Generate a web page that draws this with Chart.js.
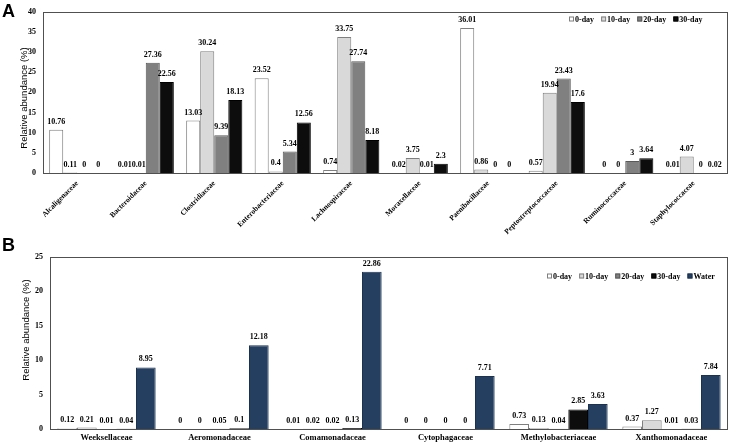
<!DOCTYPE html>
<html><head><meta charset="utf-8">
<script src="https://cdn.jsdelivr.net/npm/chart.js@4.4.0/dist/chart.umd.min.js"></script>
<style>
html,body{margin:0;padding:0;background:#fff;width:732px;height:443px;overflow:hidden;}
#ca{position:absolute;left:0;top:0;z-index:1;}
#cb{position:absolute;left:0;top:225px;z-index:2;}
</style></head><body>
<canvas id="ca" width="732" height="245"></canvas>
<canvas id="cb" width="732" height="218"></canvas>
<script>
// ---------- Data: panel A ----------
const catsA = ["Alcaligenaceae","Bacteroidaceae","Clostridiaceae","Enterobacteriaceae","Lachnospiraceae","Moraxellaceae","Paenibacillaceae","Peptostreptococcaceae","Ruminococcaceae","Staphylococcaceae"];
const a0day  = [10.76, 0.01, 13.03, 23.52, 0.74, 0.02, 36.01, 0.57, 0, 0.01];
const a10day = [0.11, 0.01, 30.24, 0.4, 33.75, 3.75, 0.86, 19.94, 0, 4.07];
const a20day = [0, 27.36, 9.39, 5.34, 27.74, 0.01, 0, 23.43, 3, 0];
const a30day = [0, 22.56, 18.13, 12.56, 8.18, 2.3, 0, 17.6, 3.64, 0.02];
const ticksA = [0,5,10,15,20,25,30,35,40];

// ---------- Data: panel B ----------
const catsB = ["Weeksellaceae","Aeromonadaceae","Comamonadaceae","Cytophagaceae","Methylobacteriaceae","Xanthomonadaceae"];
const b0day  = [0.12, 0, 0.01, 0, 0.73, 0.37];
const b10day = [0.21, 0, 0.02, 0, 0.13, 1.27];
const b20day = [0.01, 0.05, 0.02, 0, 0.04, 0.01];
const b30day = [0.04, 0.1, 0.13, 0, 2.85, 0.03];
const bWater = [8.95, 12.18, 22.86, 7.71, 3.63, 7.84];
const ticksB = [0,5,10,15,20,25];

const seriesNames = ["0-day","10-day","20-day","30-day","Water"];

const SERIF = '"Liberation Serif","Times New Roman",serif';
const SANS = '"Liberation Sans",Arial,sans-serif';

const styles = [
  {backgroundColor:'#ffffff', borderColor:'#7f7f7f'},
  {backgroundColor:'#d9d9d9', borderColor:'#7f7f7f'},
  {backgroundColor:'#808080', borderColor:'#595959'},
  {backgroundColor:'#0d0d0d', borderColor:'#000000'},
  {backgroundColor:'#243f60', borderColor:'#1c3250'}
];

function mkDs(label, data, i){
  return Object.assign({label, data, borderWidth:1, borderSkipped:'start',
    categoryPercentage:0.82, barPercentage:1}, styles[i]);
}

const valueLabels = {
  id:'valueLabels',
  afterDatasetsDraw(chart){
    const ctx = chart.ctx; ctx.save();
    ctx.font = 'bold 8px ' + SERIF; ctx.fillStyle = '#000';
    ctx.textAlign = 'center'; ctx.textBaseline = 'bottom';
    chart.data.datasets.forEach((ds,i)=>{
      chart.getDatasetMeta(i).data.forEach((bar,j)=>{
        ctx.fillText(String(ds.data[j]), bar.x, bar.y - 4);
      });
    });
    ctx.restore();
  }
};

const frame = {
  id:'frame',
  beforeDatasetsDraw(chart){
    const a = chart.chartArea, ctx = chart.ctx;
    ctx.save(); ctx.strokeStyle = '#505050'; ctx.lineWidth = 1;
    ctx.strokeRect(Math.round(a.left)+0.5, Math.round(a.top)+0.5, Math.round(a.right-a.left)-1, Math.round(a.bottom-a.top));
    ctx.restore();
  }
};

const extras = {
  id:'extras',
  afterDraw(chart, args, opts){
    const ctx = chart.ctx; ctx.save();
    // panel letter
    ctx.font = 'bold 18px ' + SANS; ctx.fillStyle = '#000';
    ctx.textAlign = 'left'; ctx.textBaseline = 'alphabetic';
    ctx.fillText(opts.letter, opts.letterX, opts.letterY);
    // y title
    ctx.save();
    ctx.translate(opts.titleX, opts.titleY); ctx.rotate(-Math.PI/2);
    ctx.font = '9.5px ' + SANS; ctx.textAlign = 'center'; ctx.textBaseline = 'middle';
    ctx.fillText('Relative abundance (%)', 0, 0);
    ctx.restore();
    // legend
    ctx.font = 'bold 8px ' + SERIF; ctx.textBaseline = 'middle';
    let x = opts.legX; const y = opts.legY;
    chart.data.datasets.forEach((ds)=>{
      ctx.fillStyle = ds.backgroundColor; ctx.strokeStyle = ds.borderColor; ctx.lineWidth = 1;
      ctx.fillRect(x, y-2.5, 5, 5); ctx.strokeRect(x+0.5, y-2, 4, 4);
      ctx.fillStyle = '#000';
      ctx.fillText(ds.label, x+6, y+0.5);
      x += 6 + ctx.measureText(ds.label).width + 7;
    });
    ctx.restore();
  }
};

function opts(ticks, yWidth, padTop, xHeight, rot, xFont, ex){
  return {
    responsive:false, animation:false,
    layout:{padding:{top:padTop, right:4, left:0, bottom:0}},
    plugins:{legend:{display:false}, tooltip:{enabled:false}, extras:ex},
    scales:{
      x:{
        grid:{display:false, drawTicks:false}, border:{display:false},
        ticks:{color:'#000', font:{family:SERIF, size:xFont, weight:'bold'}, maxRotation:rot, minRotation:rot, padding:rot?6:4, autoSkip:false},
        afterFit(s){ s.height = xHeight; }
      },
      y:{
        min:ticks[0], max:ticks[ticks.length-1],
        grid:{display:false, drawTicks:false}, border:{display:false},
        afterBuildTicks(s){ s.ticks = ticks.map(v=>({value:v})); },
        ticks:{color:'#000', font:{family:SERIF, size:8, weight:'bold'}, padding:7},
        afterFit(s){ s.width = yWidth; }
      }
    }
  };
}

new Chart(document.getElementById('ca'), {
  type:'bar',
  data:{labels:catsA, datasets:[mkDs(seriesNames[0],a0day,0),mkDs(seriesNames[1],a10day,1),mkDs(seriesNames[2],a20day,2),mkDs(seriesNames[3],a30day,3)]},
  options:opts(ticksA, 43, 5, 72, 45, 7.5, {letter:'A', letterX:2, letterY:17, titleX:24, titleY:98, legX:569, legY:19}),
  plugins:[frame, valueLabels, extras]
});

const dsB = [mkDs(seriesNames[0],b0day,0),mkDs(seriesNames[1],b10day,1),mkDs(seriesNames[2],b20day,2),mkDs(seriesNames[3],b30day,3),mkDs(seriesNames[4],bWater,4)];
dsB.forEach(d=>{ d.categoryPercentage = 0.87; });
new Chart(document.getElementById('cb'), {
  type:'bar',
  data:{labels:catsB, datasets:dsB},
  options:opts(ticksB, 50, 32, 14, 0, 8.5, {letter:'B', letterX:2, letterY:26, titleX:26, titleY:105, legX:547, legY:51}),
  plugins:[frame, valueLabels, extras]
});
</script>
</body></html>
